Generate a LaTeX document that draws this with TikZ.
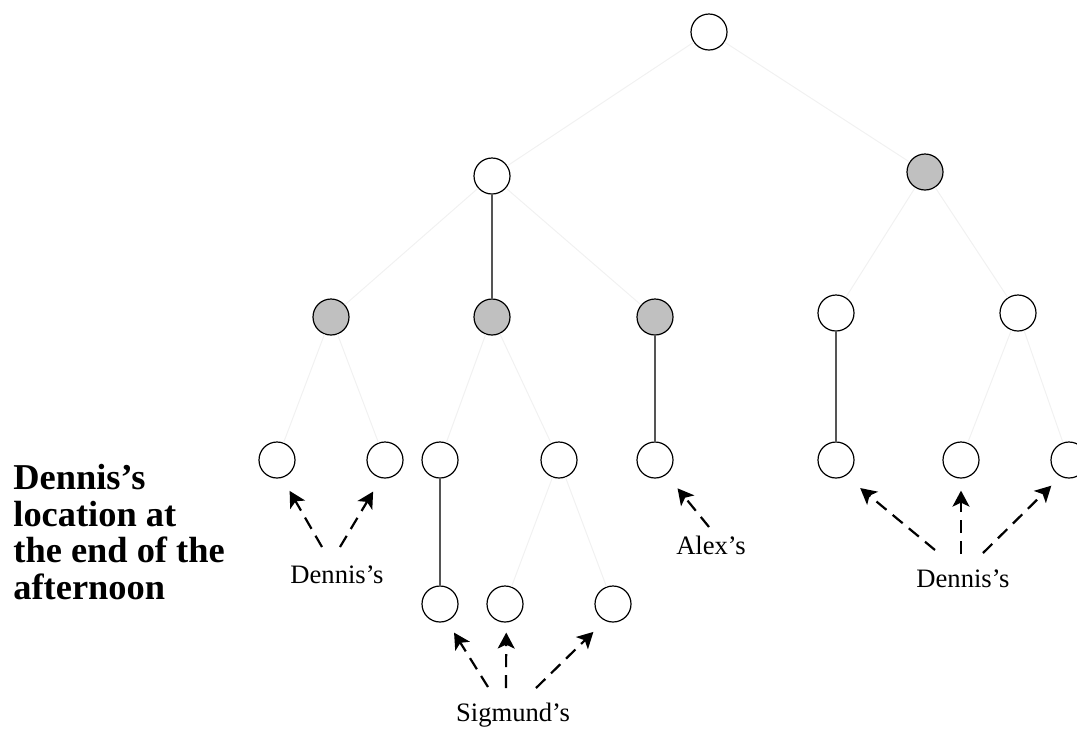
\documentclass[tikz,border=0pt]{standalone}
\usepackage{fontspec}
\setmainfont{Liberation Serif}
\usetikzlibrary{arrows.meta}
\definecolor{fade}{HTML}{F1F1F1}
\definecolor{shade}{HTML}{C0C0C0}
\definecolor{trail}{HTML}{555555}

\begin{document}
\begin{tikzpicture}[x=0.5pt,y=-0.5pt,
  spot/.style={circle,draw,line width=0.6pt,minimum size=18pt,inner sep=0pt,fill=white},
  taken/.style={spot,fill=shade},
  faint/.style={draw=fade,line width=0.5pt},
  walked/.style={draw=trail,line width=0.6pt},
  pointer/.style={dash pattern=on 6.5pt off 4pt,line width=1.1pt,
                  -{Stealth[length=8pt,width=8.5pt,inset=2pt]}},
  tag/.style={anchor=base,inner sep=0pt,font=\fontsize{13.3}{15}\selectfont}]
  \useasboundingbox (0,0) rectangle (1077,730);

  % the tree
  \node[spot]  (r)  at (709,32)  {};
  \node[spot]  (a)  at (492,176) {};
  \node[taken] (b)  at (925,172) {};
  \node[taken] (a1) at (331,317) {};
  \node[taken] (a2) at (492,317) {};
  \node[taken] (a3) at (655,317) {};
  \node[spot]  (b1) at (836,313) {};
  \node[spot]  (b2) at (1018,313) {};
  \node[spot]  (c1) at (277,460) {};
  \node[spot]  (c2) at (385,460) {};
  \node[spot]  (c3) at (440,460) {};
  \node[spot]  (c4) at (559,460) {};
  \node[spot]  (c5) at (655,460) {};
  \node[spot]  (c6) at (836,460) {};
  \node[spot]  (c7) at (961,460) {};
  \node[spot]  (c8) at (1069,460) {};
  \node[spot]  (d1) at (440,604) {};
  \node[spot]  (d2) at (505,604) {};
  \node[spot]  (d3) at (613,604) {};

  \draw[faint] (r) -- (a);
  \draw[faint] (r) -- (b);
  \draw[faint] (a) -- (a1);
  \draw[walked] (a) -- (a2);
  \draw[faint] (a) -- (a3);
  \draw[faint] (b) -- (b1);
  \draw[faint] (b) -- (b2);
  \draw[faint] (a1) -- (c1);
  \draw[faint] (a1) -- (c2);
  \draw[faint] (a2) -- (c3);
  \draw[faint] (a2) -- (c4);
  \draw[walked] (a3) -- (c5);
  \draw[walked] (b1) -- (c6);
  \draw[faint] (b2) -- (c7);
  \draw[faint] (b2) -- (c8);
  \draw[walked] (c3) -- (d1);
  \draw[faint] (c4) -- (d2);
  \draw[faint] (c4) -- (d3);

  % who ends up where
  \node[tag] (dennisL) at (337,583) {Dennis's};
  \node[tag] (alex)    at (711,554) {Alex's};
  \node[tag] (dennisR) at (963,587) {Dennis's};
  \node[tag] (sigmund) at (513,721) {Sigmund's};

  \coordinate (dl1) at (322,547);
  \coordinate (dl2) at (340,547);
  \coordinate (al)  at (709,527);
  \coordinate (dr1) at (935,550);
  \coordinate (dr2) at (961,554);
  \coordinate (dr3) at (983,553);
  \coordinate (sg1) at (488,687);
  \coordinate (sg2) at (506,688);
  \coordinate (sg3) at (536,688);

  \draw[pointer,shorten >=7.5pt] (dl1) -- (c1.-74);
  \draw[pointer,shorten >=7.8pt] (dl2) -- (c2.-102);
  \draw[pointer,shorten >=8.8pt] (al)  -- (c5.-52);
  \draw[pointer,shorten >=9.5pt] (dr1) -- (c6.-59);
  \draw[pointer,shorten >=6pt]   (dr2) -- (c7.-90);
  \draw[pointer,shorten >=6.5pt] (dr3) -- (c8.-117);
  \draw[pointer,shorten >=6.7pt] (sg1) -- (d1.-68);
  \draw[pointer,shorten >=5pt]   (sg2) -- (d2.-86);
  \draw[pointer,shorten >=8pt]   (sg3) -- (d3.-116);

  \node[anchor=north west,align=left,inner sep=0pt,
        font=\bfseries\fontsize{18.2}{18.3}\selectfont] (note) at (13,464)
       {Dennis's\\location at\\the end of the\\afternoon};
\end{tikzpicture}
\end{document}
